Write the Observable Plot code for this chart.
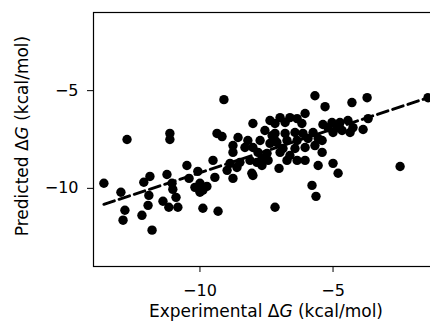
<!DOCTYPE html>
<html><head><meta charset="utf-8">
<script src="https://cdn.jsdelivr.net/npm/d3@7"></script>
<script src="https://cdn.jsdelivr.net/npm/@observablehq/plot@0.6"></script>
<style>html,body{margin:0;padding:0;overflow:hidden;background:#fff}svg{max-width:none!important}</style>
</head><body><div id="chart"></div>
<script>
// Experimental ΔG (kcal/mol)
const experimental = [
-13.61,-12.97,-12.82,-12.89,-12.18,-11.80,-12.74,-11.13,-11.13,-12.11,
-11.88,-11.92,-11.95,-11.39,-11.17,-10.83,-10.90,-11.02,-11.24,-11.05,
-10.49,-10.41,-10.19,-10.08,-10.00,-9.89,-9.74,-9.89,-9.32,-9.51,
-9.44,-9.10,-9.36,-9.17,-10.00,-8.87,-8.98,-8.76,-8.61,-8.76,
-8.76,-8.57,-8.31,-8.50,-8.20,-8.12,-8.05,-8.01,-8.01,-7.86,
-7.82,-7.67,-7.56,-7.48,-7.37,-7.29,-7.18,-7.37,-6.99,-6.62,
-6.35,-7.18,-6.80,-6.17,-6.05,-5.68,-5.30,-4.29,-3.72,-1.43,
-5.38,-5.04,-4.74,-4.44,-5.19,-4.85,-4.25,-5.75,-5.00,-4.36,
-3.87,-3.68,-7.18,-6.80,-6.43,-6.13,-7.11,-6.73,-6.35,-5.94,
-5.56,-6.88,-6.43,-6.05,-5.68,-5.41,-6.62,-6.73,-6.35,-6.05,
-5.41,-5.56,-5.00,-4.81,-7.03,-5.79,-5.64,-7.18,-2.48,-8.01,
-7.74,-7.67,-6.99,-7.44,-4.66
];
// Predicted ΔG (kcal/mol)
const predicted = [
-9.74,-10.20,-11.12,-11.63,-11.38,-12.14,-7.50,-7.19,-7.50,-9.69,
-9.39,-10.36,-10.87,-10.66,-10.97,-10.97,-10.46,-10.05,-9.29,-9.74,
-8.83,-9.49,-9.95,-9.13,-9.74,-10.10,-9.90,-11.02,-11.17,-8.57,
-9.44,-5.46,-7.19,-7.35,-10.20,-8.72,-9.08,-9.49,-8.93,-8.16,
-7.81,-7.40,-7.91,-8.67,-7.55,-8.57,-9.23,-7.91,-6.68,-8.67,
-8.16,-8.47,-7.04,-8.21,-7.70,-7.30,-7.55,-6.53,-6.38,-6.38,
-6.43,-6.68,-6.63,-6.68,-6.17,-5.26,-5.82,-5.61,-5.36,-5.36,
-6.73,-6.63,-6.63,-6.53,-6.89,-6.89,-6.89,-7.14,-7.14,-7.14,
-6.99,-6.43,-7.19,-7.19,-7.14,-7.19,-7.65,-7.55,-7.55,-7.45,
-7.45,-7.96,-7.96,-7.91,-7.81,-7.55,-8.32,-8.57,-8.57,-8.57,
-8.16,-8.83,-8.72,-9.23,-8.98,-9.85,-10.41,-10.97,-8.88,-9.34,
-7.55,-8.83,-8.16,-8.57,-7.04
];
// fitted line
const fitSlope = 0.448;
const fitIntercept = -4.72;
const xTicks = [-10, -5];
const yTicks = [-10, -5];
const xDomain = [-14, -1];
const yDomain = [-14, -1];

const points = experimental.map((x, i) => ({x, y: predicted[i]}));
const fitLine = d3.extent(experimental).map(x => ({x, y: fitIntercept + fitSlope * x}));
const fmt = d3.format("d");

const chart = Plot.plot({
  width: 440, height: 322,
  marginLeft: 93, marginRight: 1, marginTop: 12, marginBottom: 56,
  style: {fontFamily: "DejaVu Sans", fontSize: "16px", color: "black", background: "white", maxWidth: "none"},
  x: {domain: xDomain, ticks: xTicks, tickSize: 6, tickPadding: 12, tickFormat: fmt, label: null},
  y: {domain: yDomain, ticks: yTicks, tickSize: 6, tickPadding: 9, tickFormat: fmt, label: null},
  marks: [
    Plot.frame({stroke: "black", strokeWidth: 1.2}),
    Plot.dot(points, {x: "x", y: "y", r: 4.7, fill: "black", stroke: "none"}),
    Plot.line(fitLine, {x: "x", y: "y", stroke: "black", strokeWidth: 3, strokeDasharray: "11,5"})
  ]
});
document.getElementById("chart").appendChild(chart);

const svg = d3.select(chart);
function addLabel(x, y, rotate, prefix) {
  const t = svg.append("text")
    .attr("transform", `translate(${x},${y})` + (rotate ? " rotate(-90)" : ""))
    .attr("text-anchor", "middle")
    .attr("font-family", "DejaVu Sans").attr("font-size", 17).attr("fill", "black");
  t.append("tspan").text(prefix + " Δ");
  t.append("tspan").attr("font-style", "italic").text("G");
  t.append("tspan").text(" (kcal/mol)");
}
addLabel(266, 317, false, "Experimental");
addLabel(28, 136, true, "Predicted");
</script>
</body></html>
